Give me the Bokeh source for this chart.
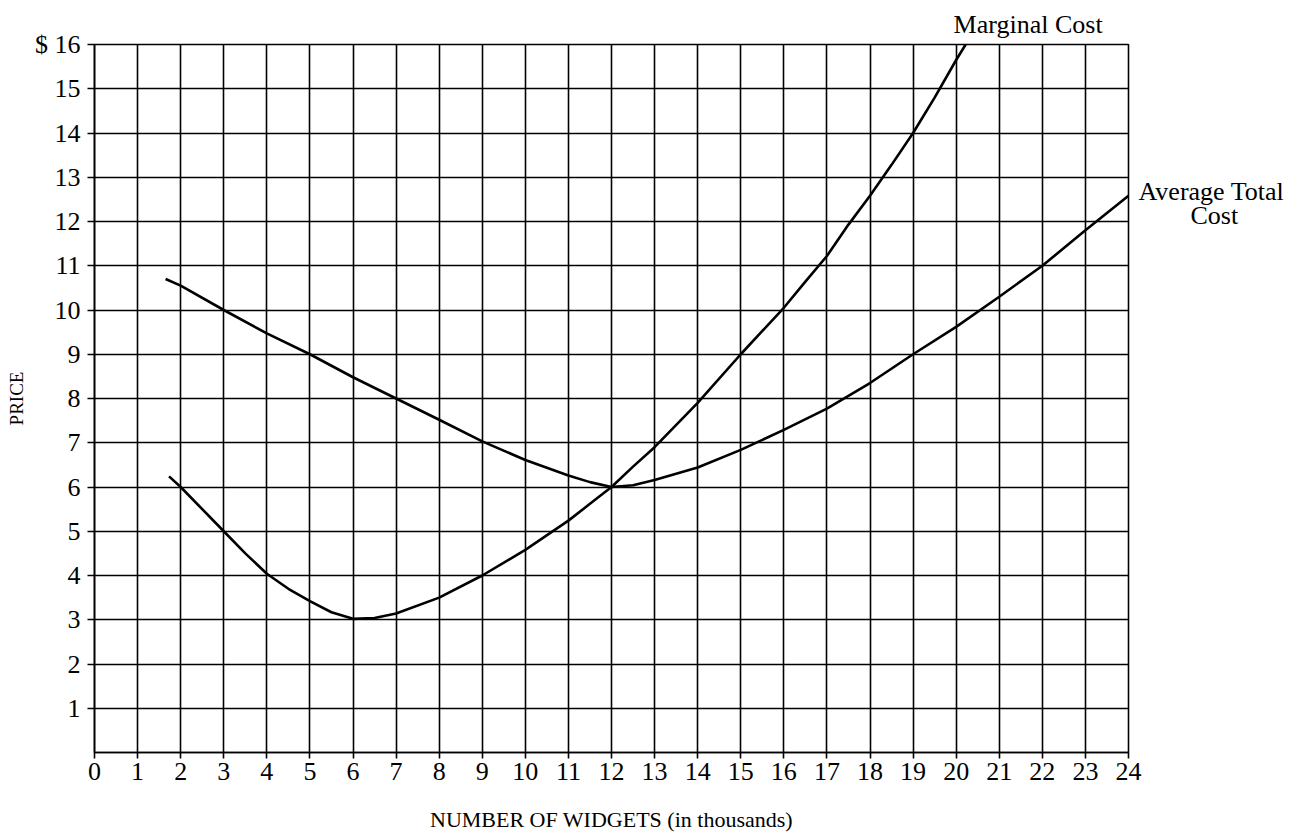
from bokeh.plotting import figure
from bokeh.models import Range1d, FixedTicker, LinearAxis
from bokeh.embed import file_html
from bokeh.resources import INLINE

# ---- data ----
x_ticks = list(range(0, 25))
y_ticks = list(range(1, 17))
y_tick_labels = {16: "$ 16"}

mc_x = [1.73, 2, 3, 3.5, 4, 4.5, 5, 5.5, 6, 6.5, 7, 8, 9, 10, 11, 11.5, 12, 12.5, 13, 14, 15, 16, 16.5, 17, 17.5, 18, 18.5, 19, 19.5, 20, 20.22]
mc_y = [6.24, 6.0, 5.0, 4.5, 4.04, 3.7, 3.42, 3.17, 3.02, 3.04, 3.14, 3.5, 4.0, 4.58, 5.24, 5.62, 6.0, 6.46, 6.9, 7.9, 9.0, 10.05, 10.64, 11.22, 11.93, 12.58, 13.28, 14.0, 14.8, 15.65, 16.0]

atc_x = [1.65, 2, 3, 4, 5, 6, 7, 8, 9, 10, 11, 11.5, 12, 12.5, 13, 14, 15, 16, 17, 18, 19, 20, 21, 22, 23, 24]
atc_y = [10.7, 10.55, 10.0, 9.47, 9.0, 8.48, 8.0, 7.52, 7.03, 6.61, 6.26, 6.11, 6.0, 6.04, 6.16, 6.44, 6.84, 7.29, 7.77, 8.35, 9.0, 9.62, 10.3, 11.0, 11.8, 12.58]

mc_label = "Marginal Cost"
mc_label_x = 21.67
atc_label_1 = "Average Total"
atc_label_2 = "Cost"
atc_label_y = [12.67, 12.14]
x_title = "NUMBER OF WIDGETS (in thousands)"
y_title = "PRICE"

FONT = "Liberation Serif"
NB = "\u00a0"

p = figure(width=1300, height=834,
           x_range=Range1d(0, 24), y_range=Range1d(0, 16),
           output_backend="svg", toolbar_location=None,
           min_border_left=94, min_border_right=172,
           min_border_top=44, min_border_bottom=82)

p.background_fill_color = "white"
p.border_fill_color = "white"
p.outline_line_color = "black"
p.outline_line_width = 1.6

for ax in (p.xaxis, p.yaxis):
    ax.axis_line_color = "black"
    ax.axis_line_width = 1.6
    ax.major_tick_line_color = "black"
    ax.major_tick_line_width = 1.6
    ax.major_tick_in = 0
    ax.minor_tick_line_color = None
    ax.major_label_text_font = FONT
    ax.major_label_text_font_size = "26px"
    ax.major_label_text_color = "black"
    ax.axis_label_text_font = FONT
    ax.axis_label_text_font_style = "normal"
    ax.axis_label_text_color = "black"

p.xaxis.ticker = FixedTicker(ticks=x_ticks)
p.yaxis.ticker = FixedTicker(ticks=y_ticks)
p.yaxis.major_label_overrides = y_tick_labels
p.xaxis.major_tick_out = 6
p.yaxis.major_tick_out = 7
p.xaxis.major_label_standoff = 4
p.yaxis.major_label_standoff = 7

p.xaxis.axis_label = x_title
p.xaxis.axis_label_text_font_size = "22px"
p.xaxis.axis_label_standoff = 24
p.yaxis.axis_label = y_title
p.yaxis.axis_label_text_font_size = "19px"
p.yaxis.axis_label_standoff = 5

for g in (p.xgrid, p.ygrid):
    g.grid_line_color = "black"
    g.grid_line_width = 1.6
    g.grid_line_alpha = 1.0

p.line(mc_x, mc_y, line_color="black", line_width=2.6)
p.line(atc_x, atc_y, line_color="black", line_width=2.6)

# curve name labels, placed as label-only axes outside the frame
top_axis = LinearAxis(ticker=FixedTicker(ticks=[mc_label_x]),
                      major_label_overrides={mc_label_x: mc_label})
right_axis = LinearAxis(ticker=FixedTicker(ticks=atc_label_y),
                        major_label_overrides={atc_label_y[0]: atc_label_1,
                                               atc_label_y[1]: NB * 8 + atc_label_2})
for ax in (top_axis, right_axis):
    ax.axis_line_color = None
    ax.major_tick_line_color = None
    ax.minor_tick_line_color = None
    ax.major_tick_out = 0
    ax.major_tick_in = 0
    ax.major_label_text_font = FONT
    ax.major_label_text_font_size = "26px"
    ax.major_label_text_color = "black"
top_axis.major_label_standoff = 6
right_axis.major_label_standoff = 10
right_axis.major_label_orientation = "horizontal"
p.add_layout(top_axis, "above")
p.add_layout(right_axis, "right")

open("out.html", "w").write(file_html(p, INLINE))
